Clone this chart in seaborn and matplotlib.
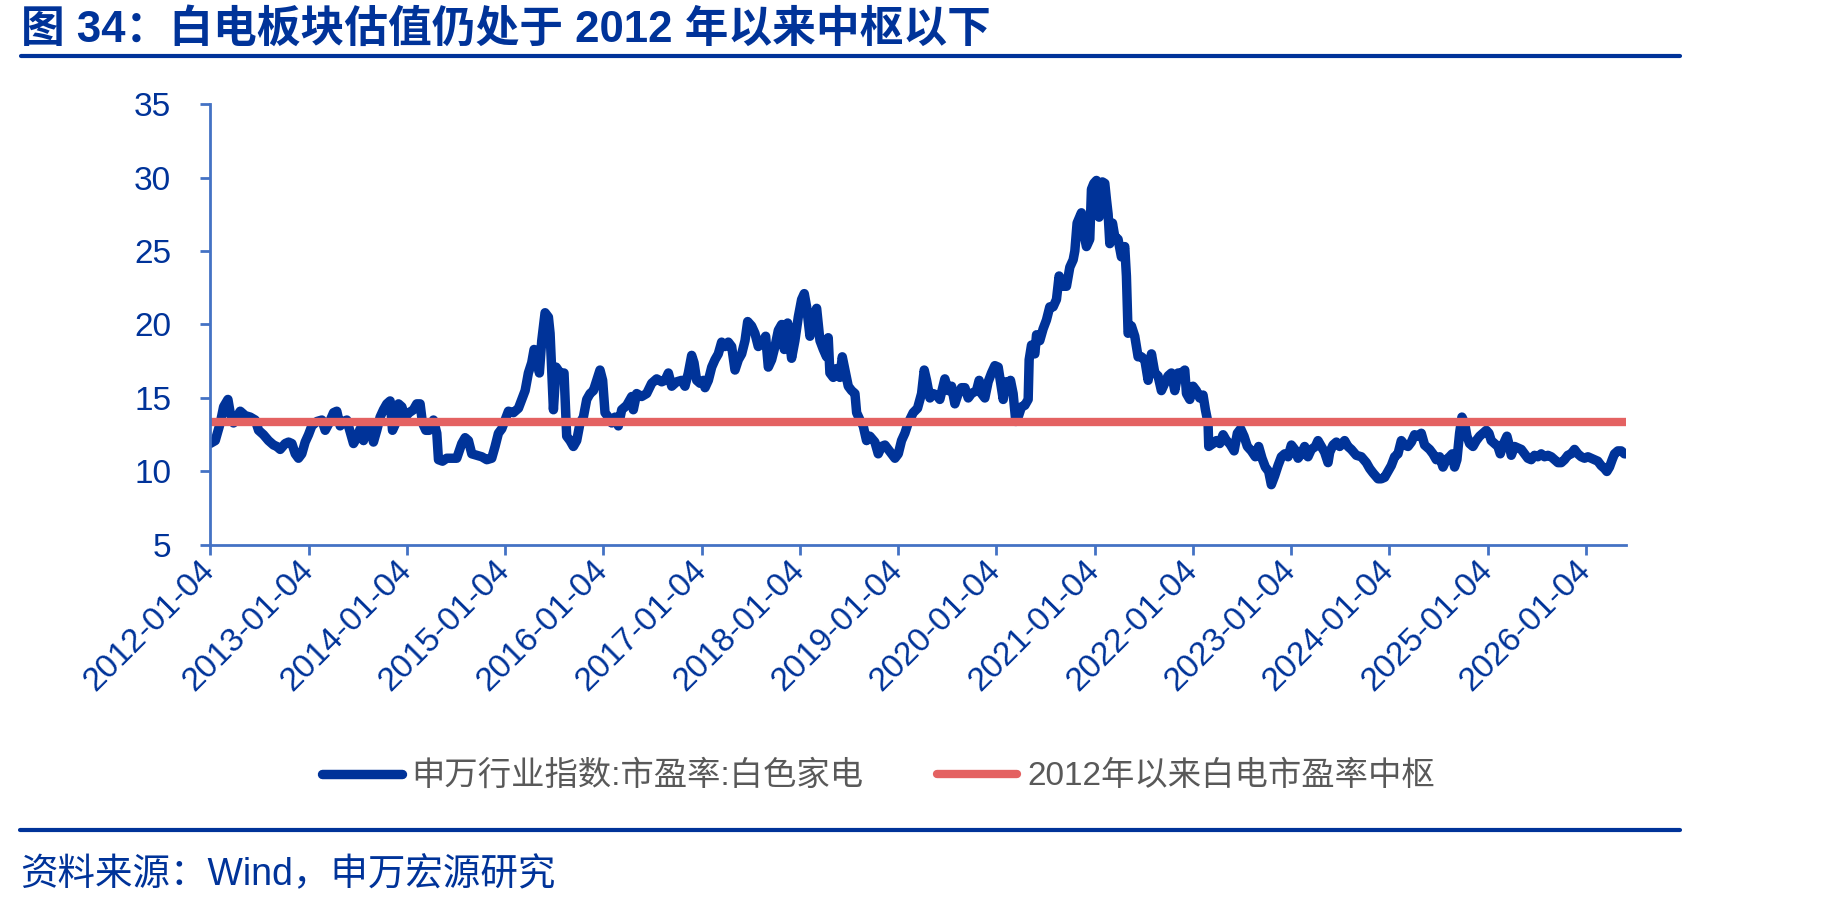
import numpy as np
import pandas as pd
import matplotlib
matplotlib.use("Agg")
import matplotlib.pyplot as plt
import seaborn as sns
from matplotlib.lines import Line2D

# %% Data (decimal year, PE ratio)
year_frac = [
    # 2012 - mid 2014
    2012.008, 2012.061, 2012.112, 2012.146, 2012.190, 2012.213, 2012.247, 2012.281, 2012.315, 2012.366,
    2012.417, 2012.468, 2012.502, 2012.552, 2012.603, 2012.654, 2012.688, 2012.722, 2012.773, 2012.807,
    2012.841, 2012.875, 2012.908, 2012.942, 2012.976, 2013.010, 2013.044, 2013.095, 2013.146, 2013.180,
    2013.220, 2013.265, 2013.298, 2013.332, 2013.366, 2013.400, 2013.434, 2013.468, 2013.502, 2013.536,
    2013.570, 2013.604, 2013.638, 2013.671, 2013.705, 2013.739, 2013.773, 2013.807, 2013.841, 2013.865,
    2013.892, 2013.926, 2013.960, 2013.994, 2014.034, 2014.078, 2014.112, 2014.146, 2014.170, 2014.204,
    2014.238, 2014.282, 2014.316, 2014.333, 2014.374, 2014.417, 2014.468,
    # mid 2014 - 2016
    2014.519, 2014.570, 2014.604, 2014.638, 2014.672, 2014.723, 2014.774, 2014.825, 2014.875, 2014.909,
    2014.943, 2014.977, 2015.011, 2015.045, 2015.096, 2015.147, 2015.181, 2015.215, 2015.248, 2015.282,
    2015.306, 2015.333, 2015.360, 2015.384, 2015.418, 2015.452, 2015.469, 2015.503, 2015.530, 2015.571,
    2015.611, 2015.638, 2015.672, 2015.706, 2015.740, 2015.774, 2015.808, 2015.842, 2015.876, 2015.910,
    2015.944, 2015.977, 2016.004, 2016.028, 2016.062, 2016.096, 2016.130, 2016.164, 2016.198, 2016.249,
    2016.300, 2016.316, 2016.350, 2016.401, 2016.452, 2016.503, 2016.554, 2016.605, 2016.639, 2016.673,
    2016.707, 2016.757, 2016.808, 2016.842, 2016.876, 2016.910, 2016.934, 2016.961,
    # 2017 - mid 2019
    2016.995, 2017.029, 2017.046, 2017.080, 2017.114, 2017.147, 2017.181, 2017.215, 2017.249, 2017.283,
    2017.317, 2017.351, 2017.385, 2017.419, 2017.453, 2017.480, 2017.520, 2017.554, 2017.588, 2017.622,
    2017.663, 2017.690, 2017.724, 2017.758, 2017.792, 2017.826, 2017.853, 2017.887, 2017.927, 2017.961,
    2017.995, 2018.029, 2018.056, 2018.080, 2018.114, 2018.148, 2018.182, 2018.216, 2018.250, 2018.283,
    2018.300, 2018.317, 2018.351, 2018.385, 2018.419, 2018.443, 2018.477, 2018.504, 2018.538, 2018.572,
    2018.589, 2018.623, 2018.656, 2018.690, 2018.724, 2018.775, 2018.809, 2018.843, 2018.877, 2018.911,
    2018.945, 2018.979, 2019.013, 2019.046, 2019.080, 2019.114, 2019.165, 2019.209, 2019.250, 2019.277,
    2019.301, 2019.335, 2019.368, 2019.402, 2019.436,
    # mid 2019 - 2021
    2019.487, 2019.521, 2019.555, 2019.589, 2019.623, 2019.657, 2019.691, 2019.725, 2019.758, 2019.809,
    2019.836, 2019.860, 2019.894, 2019.928, 2019.962, 2019.996, 2020.030, 2020.053, 2020.081, 2020.108,
    2020.131, 2020.155, 2020.182, 2020.209, 2020.233, 2020.267, 2020.301, 2020.335, 2020.345, 2020.369,
    2020.403, 2020.420, 2020.453, 2020.487, 2020.521, 2020.555, 2020.589, 2020.623, 2020.650, 2020.684,
    2020.725, 2020.759, 2020.793, 2020.810, 2020.833, 2020.877, 2020.901, 2020.928, 2020.962, 2020.979,
    2021.003, 2021.030, 2021.057, 2021.091, 2021.115, 2021.132, 2021.149, 2021.166, 2021.193, 2021.216,
    2021.250, 2021.284, 2021.318, 2021.335, 2021.352, 2021.386, 2021.420, 2021.454, 2021.488, 2021.522,
    2021.556, 2021.590, 2021.624, 2021.657, 2021.691, 2021.725, 2021.759, 2021.793, 2021.827, 2021.861,
    2021.895, 2021.929,
    # 2022 - mid 2024
    2021.946, 2021.980, 2022.013, 2022.047, 2022.081, 2022.115, 2022.139, 2022.166, 2022.173, 2022.217,
    2022.251, 2022.285, 2022.319, 2022.353, 2022.386, 2022.431, 2022.464, 2022.498, 2022.532, 2022.566,
    2022.607, 2022.647, 2022.681, 2022.715, 2022.749, 2022.783, 2022.810, 2022.844, 2022.878, 2022.912,
    2022.946, 2022.980, 2023.014, 2023.048, 2023.082, 2023.115, 2023.149, 2023.183, 2023.217, 2023.258,
    2023.285, 2023.319, 2023.353, 2023.387, 2023.404, 2023.438, 2023.472, 2023.506, 2023.556, 2023.590,
    2023.624, 2023.675, 2023.726, 2023.777, 2023.811, 2023.845, 2023.896, 2023.929, 2023.963, 2023.997,
    2024.031, 2024.065, 2024.099, 2024.133, 2024.167, 2024.201, 2024.235, 2024.268, 2024.302, 2024.336,
    2024.370, 2024.421,
    # mid 2024 - 2026
    2024.455, 2024.489, 2024.523, 2024.557, 2024.591, 2024.624, 2024.652, 2024.675, 2024.699, 2024.726,
    2024.750, 2024.777, 2024.801, 2024.828, 2024.862, 2024.896, 2024.930, 2024.964, 2024.998, 2025.025,
    2025.048, 2025.082, 2025.116, 2025.140, 2025.174, 2025.208, 2025.235, 2025.252, 2025.286, 2025.320,
    2025.354, 2025.387, 2025.421, 2025.455, 2025.489, 2025.523, 2025.557, 2025.591, 2025.625, 2025.659,
    2025.693, 2025.727, 2025.761, 2025.794, 2025.828, 2025.862, 2025.896, 2025.930, 2025.964, 2025.998,
    2026.032, 2026.066, 2026.099, 2026.133, 2026.167, 2026.201, 2026.225, 2026.252, 2026.279, 2026.303,
    2026.337, 2026.371, 2026.404, 2026.420,
]

pe_ratio = [
    11.9, 12.1, 13.3, 14.4, 14.9, 14.0, 13.3, 13.7, 14.1, 13.8,
    13.7, 13.5, 12.8, 12.5, 12.1, 11.8, 11.7, 11.5, 11.9, 12.0,
    11.9, 11.2, 10.9, 11.2, 12.0, 12.5, 13.1, 13.4, 13.5, 12.8,
    13.3, 14.0, 14.1, 13.1, 13.4, 13.5, 12.7, 11.9, 12.3, 12.9,
    12.1, 13.3, 13.2, 12.0, 12.8, 13.7, 14.2, 14.6, 14.8, 12.8,
    13.2, 14.6, 14.4, 13.7, 14.0, 14.2, 14.6, 14.6, 13.3, 12.8,
    12.8, 13.5, 12.6, 10.8, 10.7, 10.9, 10.9,

    10.9, 11.9, 12.3, 12.1, 11.2, 11.1, 11.0, 10.8, 10.9, 11.7,
    12.6, 12.9, 13.5, 14.1, 14.0, 14.3, 14.9, 15.5, 16.7, 17.4,
    18.3, 18.0, 16.7, 18.9, 20.8, 20.5, 19.4, 14.2, 17.1, 16.7,
    16.7, 12.4, 12.1, 11.7, 12.1, 13.3, 13.7, 14.9, 15.3, 15.5,
    16.2, 16.9, 16.2, 14.0, 13.7, 13.3, 13.7, 13.1, 14.2, 14.5,
    15.1, 14.2, 15.3, 15.1, 15.3, 16.0, 16.3, 16.1, 16.2, 16.7,
    15.8, 16.1, 16.2, 15.8, 16.7, 17.9, 17.4, 16.2,

    16.0, 16.2, 15.7, 16.2, 17.1, 17.6, 18.0, 18.8, 18.5, 18.8,
    18.5, 16.9, 17.6, 18.0, 18.9, 20.2, 19.9, 19.4, 18.5, 18.7,
    19.2, 17.1, 17.6, 18.5, 19.6, 20.0, 18.3, 20.1, 17.7, 18.9,
    20.5, 21.7, 22.1, 21.2, 19.2, 20.5, 21.1, 18.9, 18.3, 17.8,
    19.1, 16.7, 16.4, 17.0, 16.4, 17.8, 16.7, 15.8, 15.5, 15.3,
    14.0, 13.5, 13.1, 12.1, 12.4, 12.0, 11.2, 11.7, 11.8, 11.5,
    11.2, 10.9, 11.2, 12.1, 12.6, 13.3, 14.0, 14.3, 15.3, 16.9,
    16.2, 15.0, 15.3, 15.2, 14.9,

    16.3, 15.5, 15.8, 14.6, 15.3, 15.7, 15.7, 15.0, 15.3, 15.5,
    16.2, 15.3, 15.0, 16.1, 16.7, 17.2, 17.1, 16.1, 14.9, 16.1,
    15.5, 16.2, 15.3, 13.4, 13.7, 14.4, 14.5, 14.9, 17.6, 18.6,
    18.0, 19.3, 18.9, 19.7, 20.3, 21.2, 21.2, 21.7, 23.3, 22.6,
    22.6, 23.9, 24.4, 25.0, 26.9, 27.6, 26.2, 25.3, 25.8, 29.2,
    29.6, 29.8, 27.3, 29.7, 29.6, 28.5, 27.5, 25.5, 26.9, 26.0,
    25.8, 24.6, 25.3, 23.3, 19.4, 19.9, 19.2, 17.8, 17.8, 17.6,
    16.2, 18.0, 16.7, 16.5, 15.5, 16.0, 16.5, 16.7, 15.5, 16.7,
    16.7, 16.9,

    15.3, 14.9, 15.8, 15.5, 15.0, 15.2, 14.2, 13.3, 11.7, 11.9,
    12.1, 11.9, 12.5, 12.1, 11.9, 11.4, 12.6, 12.9, 12.4, 11.7,
    11.4, 11.0, 11.7, 10.9, 10.3, 10.0, 9.1, 9.7, 10.4, 11.0,
    11.2, 11.0, 11.8, 11.5, 10.9, 11.2, 11.7, 11.0, 11.5, 11.7,
    12.1, 11.7, 11.3, 10.6, 11.3, 11.8, 12.0, 11.7, 12.1, 11.7,
    11.5, 11.1, 11.0, 10.6, 10.2, 9.9, 9.5, 9.5, 9.6, 10.0,
    10.4, 11.0, 11.2, 12.1, 11.8, 11.7, 12.0, 12.5, 12.4, 12.6,
    11.8, 11.5,

    11.2, 10.8, 11.0, 10.3, 10.8, 11.0, 11.2, 10.3, 10.8, 12.6,
    13.7, 13.3, 12.4, 11.9, 11.7, 12.1, 12.4, 12.6, 12.8, 12.6,
    12.1, 11.9, 11.7, 11.2, 11.9, 12.4, 11.7, 11.1, 11.7, 11.6,
    11.5, 11.2, 10.9, 10.8, 11.1, 11.0, 11.2, 11.0, 11.1, 11.0,
    10.8, 10.6, 10.6, 10.8, 11.1, 11.2, 11.5, 11.2, 11.0, 10.9,
    11.0, 10.9, 10.8, 10.7, 10.4, 10.2, 10.0, 10.3, 10.8, 11.2,
    11.4, 11.4, 11.2, 11.2,
]

center_pe = 13.35
tick_years = list(range(2012, 2027))
tick_labels = [f"{y}-01-04" for y in tick_years]
y_ticks = [5, 10, 15, 20, 25, 30, 35]

series_label = "申万行业指数:市盈率:白色家电"
center_label = "2012年以来白电市盈率中枢"
title = "图 34：白电板块估值仍处于 2012 年以来中枢以下"
source = "资料来源：Wind，申万宏源研究"

BLUE = "#003399"
RED = "#E46262"
AXIS = "#4472C4"
GREY = "#595959"

# %% Build frame
dates = pd.Timestamp("2012-01-01") + pd.to_timedelta(
    (np.array(year_frac) - 2012) * 365.25, unit="D")
df = pd.DataFrame({"date": dates, "pe": pe_ratio})
df["center"] = center_pe

# %% Plot
sns.set_theme(style="white")
plt.rcParams["font.family"] = ["Liberation Sans", "Noto Sans CJK SC", "DejaVu Sans"]
plt.rcParams["lines.solid_joinstyle"] = "round"

fig = plt.figure(figsize=(18.49, 9.06), dpi=100)
ax = fig.add_axes([0.1136, 0.3985, 0.7658, 0.4867])

sns.lineplot(data=df, x="date", y="pe", color=BLUE, linewidth=6.8,
             estimator=None, sort=False, label=series_label, ax=ax)
sns.lineplot(data=df, x="date", y="center", color=RED, linewidth=6,
             estimator=None, sort=False, label=center_label, ax=ax)

ax.set_xlim(df["date"].min(), df["date"].max())
ax.set_ylim(5, 35)
ax.set_yticks(y_ticks)
ax.set_xticks([pd.Timestamp(f"{y}-01-04") for y in tick_years])
ax.set_xticklabels(tick_labels)
ax.set_xlabel("")
ax.set_ylabel("")

for side in ["top", "right"]:
    ax.spines[side].set_visible(False)
for side in ["left", "bottom"]:
    ax.spines[side].set_color(AXIS)
    ax.spines[side].set_linewidth(2)

ax.tick_params(axis="both", direction="out", length=7, width=2, color=AXIS,
               labelcolor=BLUE, labelsize=24, left=True, bottom=True)
ax.tick_params(axis="y", pad=21)
ax.tick_params(axis="x", pad=8)
for lbl in ax.get_xticklabels():
    lbl.set_rotation(45)
    lbl.set_ha("right")
    lbl.set_va("center")
    lbl.set_rotation_mode("anchor")

leg = ax.legend(loc="center", bbox_to_anchor=(0.475, 0.143),
                bbox_transform=fig.transFigure, ncol=2, frameon=False,
                fontsize=24, handlelength=2.4, handletextpad=0.3,
                columnspacing=2.2, labelcolor=GREY)
for line in leg.get_lines():
    line.set_solid_capstyle("round")

# Title, rules and source
fig.text(0.0114, 0.967, title, fontsize=31.5, fontweight="bold", color=BLUE,
         ha="left", va="center")
fig.add_artist(Line2D([0.0114, 0.9086], [1 - 56 / 906] * 2,
                      transform=fig.transFigure, color=BLUE, linewidth=3))
fig.add_artist(Line2D([0.0108, 0.9086], [1 - 830 / 906] * 2,
                      transform=fig.transFigure, color=BLUE, linewidth=3))
fig.text(0.0108, 0.0345, source, fontsize=27, color=BLUE, ha="left", va="center")

fig.savefig("out.png", dpi=100)
